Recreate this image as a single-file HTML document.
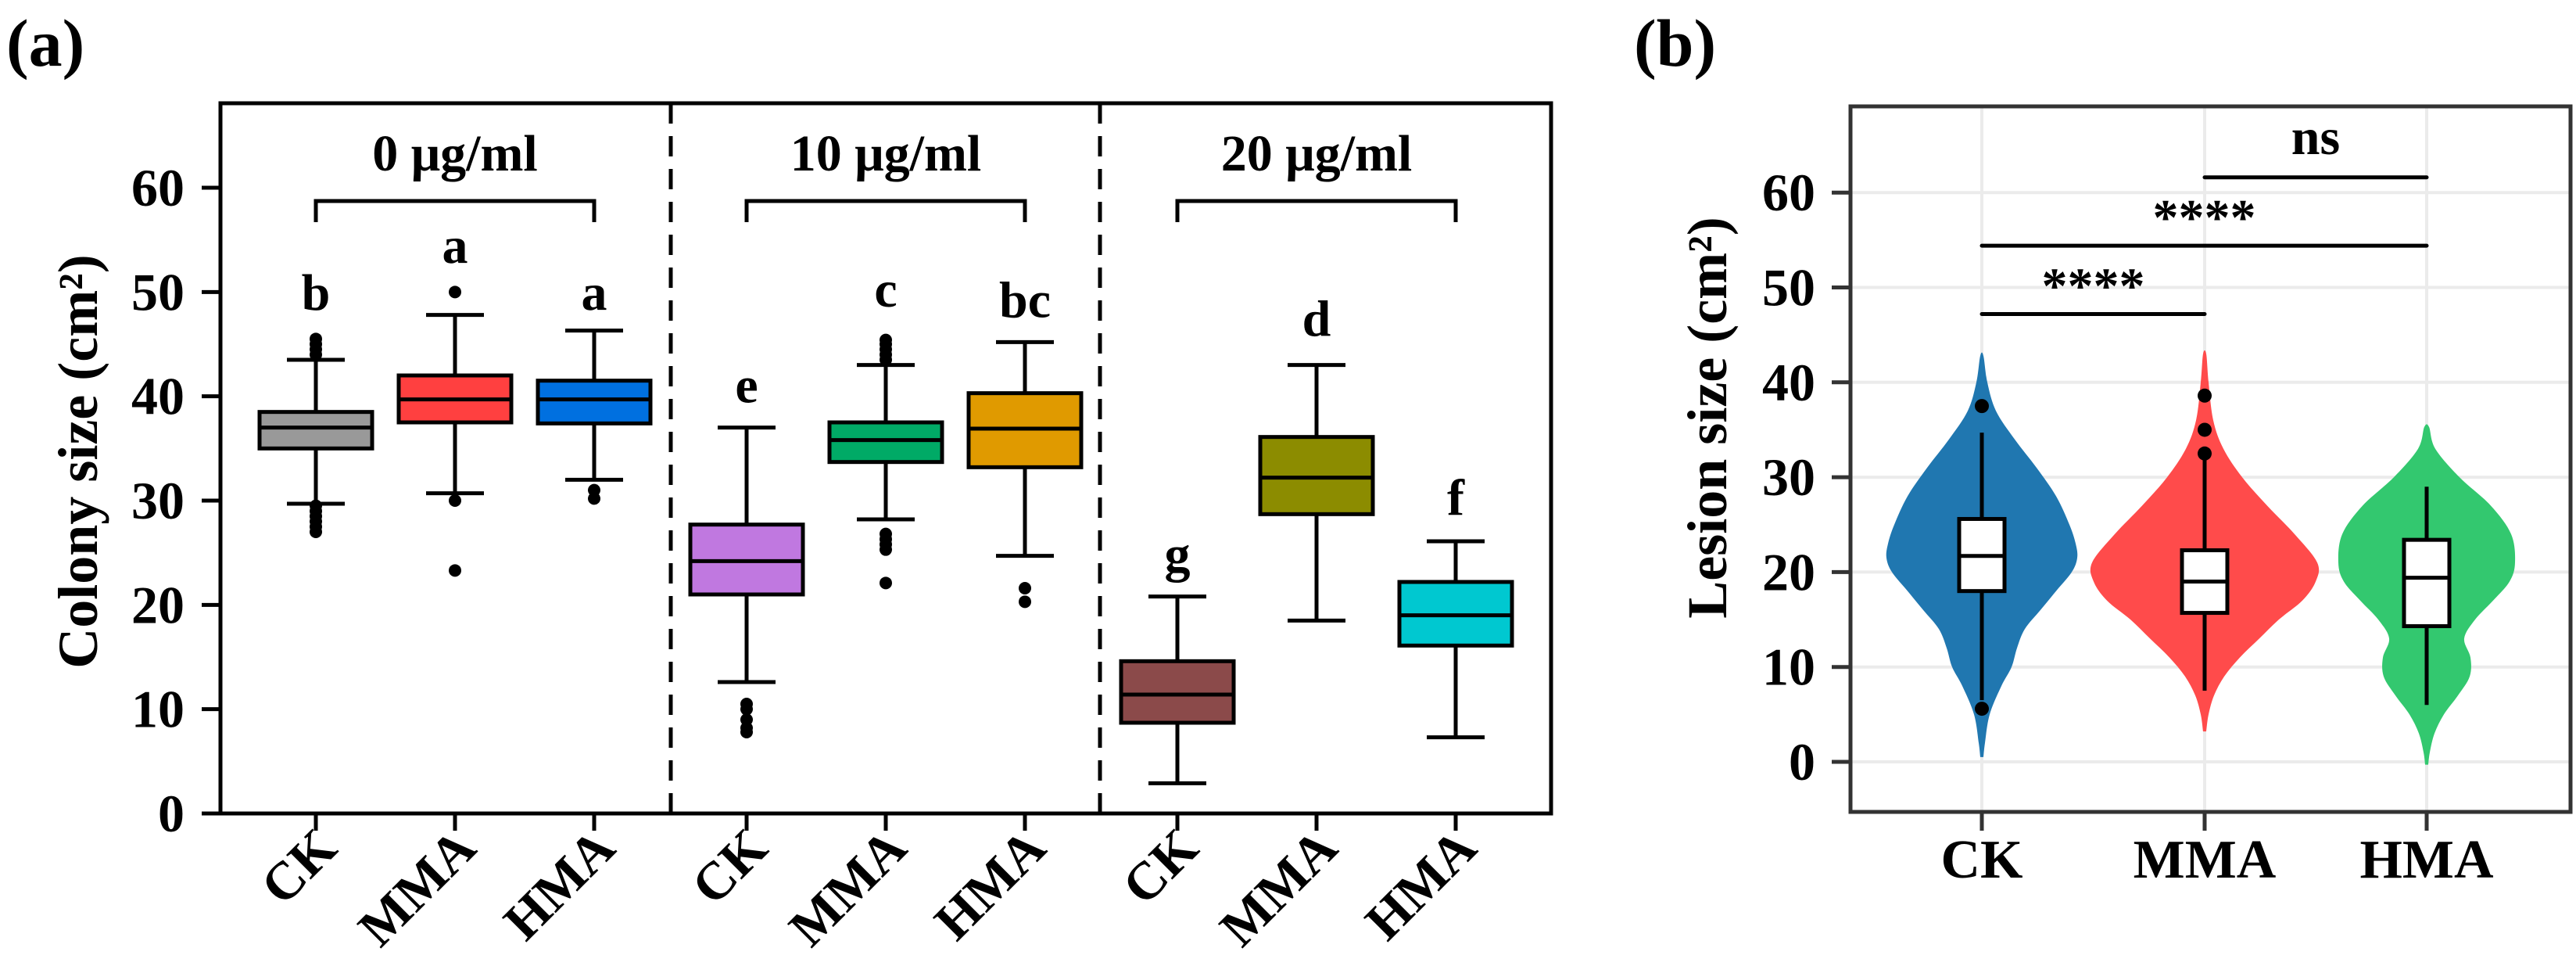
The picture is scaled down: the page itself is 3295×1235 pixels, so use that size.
<!DOCTYPE html>
<html><head><meta charset="utf-8">
<style>
html,body{margin:0;padding:0;background:#fff;}
svg{display:block;font-family:"Liberation Serif",serif;font-weight:bold;}
</style></head>
<body>
<svg id="chart" width="3295" height="1235" viewBox="0 0 3295 1235" xmlns="http://www.w3.org/2000/svg">
<text x="8" y="84" font-size="86" font-family="Liberation Serif, serif" font-weight="bold">(a)</text>
<text x="2090" y="84" font-size="86" font-family="Liberation Serif, serif" font-weight="bold">(b)</text>
<g id="pa"></g>
<g id="pb"></g>
</svg>
<script>
// ---------- Panel A data ----------
const groupLabels = ["0 μg/ml", "10 μg/ml", "20 μg/ml"];
const catLabels = ["CK", "MMA", "HMA", "CK", "MMA", "HMA", "CK", "MMA", "HMA"];
const boxLow  = [29.7, 30.7, 32.0, 12.6, 28.2, 24.7, 2.9, 18.5, 7.3];
const boxQ1   = [35.0, 37.5, 37.4, 21.0, 33.7, 33.2, 8.7, 28.7, 16.1];
const boxMed  = [37.0, 39.7, 39.7, 24.2, 35.8, 36.9, 11.4, 32.2, 19.0];
const boxQ3   = [38.5, 42.0, 41.5, 27.7, 37.5, 40.3, 14.6, 36.1, 22.2];
const boxHigh = [43.5, 47.8, 46.3, 37.0, 43.0, 45.2, 20.8, 43.0, 26.1];
const outliers = [
  [45.5, 45.0, 44.5, 44.0, 29.5, 29.0, 28.5, 28.0, 27.5, 27.0],
  [50.0, 30.0, 23.3],
  [31.0, 30.2],
  [10.5, 10.0, 9.0, 8.2, 7.8],
  [45.4, 45.0, 44.5, 44.0, 43.5, 26.8, 26.3, 25.8, 25.3, 22.1],
  [21.6, 20.3],
  [], [], []
];
const sigLetters = ["b", "a", "a", "e", "c", "bc", "g", "d", "f"];
const letterY = [48.3, 52.8, 48.3, 39.4, 48.6, 47.6, 23.2, 45.8, 28.6];
const boxColors = ["#999999", "#ff4040", "#0070e0", "#c078e0", "#00aa66", "#e09a00", "#8b4a4a", "#8c8c00", "#00c8d0"];
const yTicksA = [0, 10, 20, 30, 40, 50, 60];

// ---------- Panel B data ----------
const vCats = ["CK", "MMA", "HMA"];
const vColors = ["#2077b0", "#ff4b4b", "#33c86f"];
const vYs = [
  [0.5, 2, 5, 8, 10, 12, 14, 16, 18, 20, 21.5, 23, 25, 28, 31, 34, 37, 40, 42.8],
  [3.2, 5, 7, 9, 11, 13, 15, 17, 19, 21, 24, 27, 30, 33, 36, 40, 43],
  [-0.3, 1, 3, 5, 7, 9, 11, 13, 15, 17, 19, 21, 24, 27, 30, 33, 35.3]
];
const vWidths = [
  [2, 4, 10, 25, 38, 45, 55, 75, 95, 115, 122, 120, 112, 95, 70, 42, 18, 7, 2],
  [2, 5, 12, 25, 45, 70, 95, 125, 142, 144, 115, 80, 48, 24, 11, 5, 2],
  [2, 4, 10, 22, 40, 55, 56, 48, 62, 85, 106, 113, 108, 82, 42, 11, 3]
];
const vQ1 = [18.0, 15.7, 14.3];
const vMed = [21.7, 19.0, 19.4];
const vQ3 = [25.6, 22.3, 23.4];
const vLow = [6.5, 7.5, 6.0];
const vHigh = [34.7, 32.0, 29.0];
const vOut = [[37.5, 5.6], [38.6, 35.0, 32.5], []];
const sigFrom = [0, 0, 1];
const sigTo = [1, 2, 2];
const sigLevel = [47.2, 54.4, 61.6];
const sigText = ["****", "****", "ns"];
const yTicksB = [0, 10, 20, 30, 40, 50, 60];

const NS = "http://www.w3.org/2000/svg";
function mk(parent, tag, attrs, name) {
  const el = document.createElementNS(NS, tag);
  for (const k in attrs) el.setAttribute(k, attrs[k]);
  if (tag === 'text') {
    el.setAttribute('font-family', 'Liberation Serif, serif');
    if (!attrs['font-weight']) el.setAttribute('font-weight', 'bold');
  }
  
  
  parent.appendChild(el);
  return el;
}
function smoothPath(pts) {
  let d = `M${pts[0][0]},${pts[0][1]}`;
  for (let i = 0; i < pts.length - 1; i++) {
    const p0 = pts[Math.max(0, i - 1)], p1 = pts[i], p2 = pts[i + 1], p3 = pts[Math.min(pts.length - 1, i + 2)];
    const c1 = [p1[0] + (p2[0] - p0[0]) / 6, p1[1] + (p2[1] - p0[1]) / 6];
    const c2 = [p2[0] - (p3[0] - p1[0]) / 6, p2[1] - (p3[1] - p1[1]) / 6];
    d += ` C${c1[0]},${c1[1]} ${c2[0]},${c2[1]} ${p2[0]},${p2[1]}`;
  }
  return d;
}

// ---------- Panel A ----------
(function () {
  const g = document.getElementById('pa');
  const L = 282, R = 1984, T = 132, B = 1040;
  const y = v => 1040 - v * (800 / 60);
  const xPos = i => { const gi = Math.floor(i / 3), k = i % 3; return [404, 955, 1506][gi] + k * 178; };
  yTicksA.forEach(t => {
    mk(g, 'line', {x1: 258, x2: L, y1: y(t), y2: y(t), stroke: '#000', 'stroke-width': 5}, 'y-tick');
    const tx = mk(g, 'text', {x: 236, y: y(t) + 23, 'font-size': 68, 'text-anchor': 'end'}, 'y-tick-label');
    tx.textContent = t;
  });
  const yt = mk(g, 'text', {x: 0, y: 0, 'font-size': 72, 'text-anchor': 'middle', transform: 'translate(124,590) rotate(-90)'}, 'y-axis-title');
  yt.textContent = 'Colony size (cm²)';
  [858, 1407].forEach(dx => mk(g, 'line', {x1: dx, x2: dx, y1: T, y2: B, stroke: '#000', 'stroke-width': 5, 'stroke-dasharray': '26,16'}, 'group-divider'));
  groupLabels.forEach((lab, gi) => {
    const x1 = xPos(gi * 3), x2 = xPos(gi * 3 + 2);
    const t = mk(g, 'text', {x: (x1 + x2) / 2, y: 218, 'font-size': 66, 'text-anchor': 'middle'}, 'group-label');
    t.textContent = lab;
    mk(g, 'path', {d: `M${x1},284 V257 H${x2} V284`, fill: 'none', stroke: '#000', 'stroke-width': 5}, 'group-bracket');
  });
  catLabels.forEach((c, i) => {
    const x = xPos(i);
    mk(g, 'line', {x1: x, x2: x, y1: B, y2: 1062, stroke: '#000', 'stroke-width': 5}, 'x-tick');
    const t = mk(g, 'text', {x: 0, y: 0, 'font-size': 68, 'text-anchor': 'end', transform: `translate(${x + 30},${1088}) rotate(-45)`}, 'x-tick-label');
    t.textContent = c;
    const hw = 72, cw = 37;
    mk(g, 'line', {x1: x, x2: x, y1: y(boxHigh[i]), y2: y(boxQ3[i]), stroke: '#000', 'stroke-width': 5}, 'whisker-upper');
    mk(g, 'line', {x1: x, x2: x, y1: y(boxQ1[i]), y2: y(boxLow[i]), stroke: '#000', 'stroke-width': 5}, 'whisker-lower');
    mk(g, 'line', {x1: x - cw, x2: x + cw, y1: y(boxHigh[i]), y2: y(boxHigh[i]), stroke: '#000', 'stroke-width': 5}, 'whisker-cap');
    mk(g, 'line', {x1: x - cw, x2: x + cw, y1: y(boxLow[i]), y2: y(boxLow[i]), stroke: '#000', 'stroke-width': 5}, 'whisker-cap');
    mk(g, 'rect', {x: x - hw, y: y(boxQ3[i]), width: 2 * hw, height: y(boxQ1[i]) - y(boxQ3[i]), fill: boxColors[i], stroke: '#000', 'stroke-width': 5}, 'box-' + c.toLowerCase());
    mk(g, 'line', {x1: x - hw, x2: x + hw, y1: y(boxMed[i]), y2: y(boxMed[i]), stroke: '#000', 'stroke-width': 5}, 'median-line');
    outliers[i].forEach(o => mk(g, 'circle', {cx: x, cy: y(o), r: 8, fill: '#000'}, 'outlier-point'));
    const lt = mk(g, 'text', {x: x, y: y(letterY[i]), 'font-size': 66, 'text-anchor': 'middle'}, 'significance-letter');
    lt.textContent = sigLetters[i];
  });
  mk(g, 'rect', {x: L, y: T, width: R - L, height: B - T, fill: 'none', stroke: '#000', 'stroke-width': 5}, 'plot-frame');
})();

// ---------- Panel B ----------
(function () {
  const g = document.getElementById('pb');
  const L = 2367, R = 3288, T = 136, B = 1038;
  const y = v => 974 - v * 121.3 / 10;
  const xs = [2535, 2820, 3104];
  yTicksB.forEach(t => {
    mk(g, 'line', {x1: L, x2: R, y1: y(t), y2: y(t), stroke: '#ebebeb', 'stroke-width': 4}, 'grid-line');
    mk(g, 'line', {x1: 2343, x2: L, y1: y(t), y2: y(t), stroke: '#333', 'stroke-width': 5}, 'y-tick');
    const tx = mk(g, 'text', {x: 2322, y: y(t) + 23, 'font-size': 68, 'text-anchor': 'end'}, 'y-tick-label');
    tx.textContent = t;
  });
  xs.forEach(x => mk(g, 'line', {x1: x, x2: x, y1: T, y2: B, stroke: '#ebebeb', 'stroke-width': 4}, 'grid-line'));
  const yt = mk(g, 'text', {x: 0, y: 0, 'font-size': 72, 'text-anchor': 'middle', transform: 'translate(2208,534) rotate(-90)'}, 'y-axis-title');
  yt.textContent = 'Lesion size (cm²)';
  vCats.forEach((c, i) => {
    const x = xs[i];
    const right = vYs[i].map((v, j) => [x + vWidths[i][j], y(v)]);
    const left = vYs[i].map((v, j) => [x - vWidths[i][j], y(v)]).reverse();
    const pts = right.concat(left);
    mk(g, 'path', {d: smoothPath(pts) + ' Z', fill: vColors[i]}, 'violin-' + c.toLowerCase());
    mk(g, 'line', {x1: x, x2: x, y1: y(vHigh[i]), y2: y(vLow[i]), stroke: '#000', 'stroke-width': 5}, 'whisker');
    mk(g, 'rect', {x: x - 29, y: y(vQ3[i]), width: 58, height: y(vQ1[i]) - y(vQ3[i]), fill: '#fff', stroke: '#000', 'stroke-width': 5}, 'box-' + c.toLowerCase());
    mk(g, 'line', {x1: x - 29, x2: x + 29, y1: y(vMed[i]), y2: y(vMed[i]), stroke: '#000', 'stroke-width': 5}, 'median-line');
    vOut[i].forEach(o => mk(g, 'circle', {cx: x, cy: y(o), r: 9, fill: '#000'}, 'outlier-point'));
    mk(g, 'line', {x1: x, x2: x, y1: B, y2: 1062, stroke: '#333', 'stroke-width': 5}, 'x-tick');
    const t = mk(g, 'text', {x: x, y: 1122, 'font-size': 70, 'text-anchor': 'middle'}, 'x-tick-label');
    t.textContent = c;
  });
  sigLevel.forEach((lv, k) => {
    const x1 = xs[sigFrom[k]], x2 = xs[sigTo[k]];
    mk(g, 'line', {x1: x1, x2: x2, y1: y(lv), y2: y(lv), stroke: '#000', 'stroke-width': 5, 'stroke-linecap': 'round'}, 'significance-bar');
    const isStar = sigText[k] !== 'ns';
    const t = mk(g, 'text', {x: (x1 + x2) / 2, y: isStar ? y(lv) - 14 : y(lv) - 30, 'font-size': isStar ? 66 : 66, 'text-anchor': 'middle'}, 'significance-label');
    t.textContent = sigText[k];
  });
  mk(g, 'rect', {x: L, y: T, width: R - L, height: B - T, fill: 'none', stroke: '#333', 'stroke-width': 5}, 'plot-frame');
})();
</script>
</body></html>
